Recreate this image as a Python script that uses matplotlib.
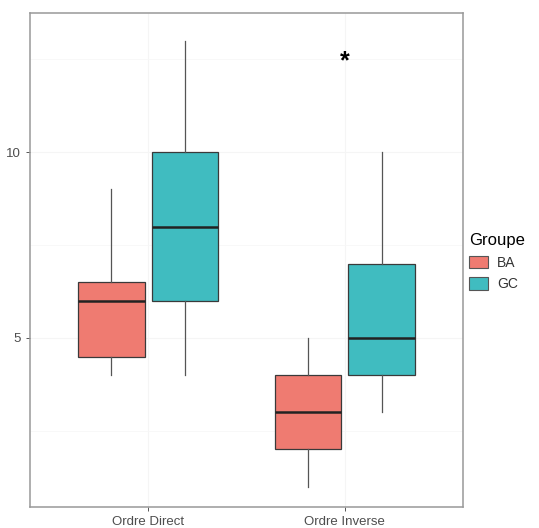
import matplotlib
matplotlib.use("Agg")
import matplotlib.pyplot as plt
from matplotlib.patches import Patch

plt.rcParams['font.family'] = ['Liberation Sans', 'DejaVu Sans']

categories = ["Ordre Direct", "Ordre Inverse"]
groups = ["BA", "GC"]
colors = {"BA": "#EF7B71", "GC": "#40BCC0"}

# five-number summaries [low whisker, Q1, median, Q3, high whisker] per category
stats_BA = [[4, 4.5, 6, 6.5, 9], [1, 2, 3, 4, 5]]
stats_GC = [[4, 6, 8, 10, 13], [3, 4, 5, 7, 10]]
all_stats = {"BA": stats_BA, "GC": stats_GC}

sig_label = "*"
sig_category = "Ordre Inverse"
sig_y = 12.45

fig = plt.figure(figsize=(5.39, 5.28), dpi=100)
W, H = 539, 528
ax = fig.add_axes([30 / W, 1 - 507 / H, (463 - 30) / W, (507 - 13) / H])

offsets = {"BA": -0.1875, "GC": 0.1875}
box_w = 0.34

for g in groups:
    bstats = []
    pos = []
    for i, s in enumerate(all_stats[g]):
        bstats.append(dict(whislo=s[0], q1=s[1], med=s[2], q3=s[3], whishi=s[4], fliers=[]))
        pos.append(i + 1 + offsets[g])
    ax.bxp(bstats, positions=pos, widths=box_w, patch_artist=True, showcaps=False,
           boxprops=dict(facecolor=colors[g], edgecolor="#3a3a3a", linewidth=0.9),
           whiskerprops=dict(color="#555555", linewidth=0.9),
           medianprops=dict(color="#222222", linewidth=1.8),
           zorder=3)

ax.set_xlim(0.4, 2.6)
ax.set_ylim(0.45, 13.75)
ax.set_xticks([1, 2])
ax.set_xticklabels(categories)
ax.set_yticks([5, 10])
ax.set_yticklabels(["5", "10"])
ax.set_yticks([2.5, 7.5, 12.5], minor=True)
ax.grid(True, which="major", color="#f5f5f5", linewidth=0.8, zorder=0)
ax.grid(True, which="minor", axis="y", color="#f7f7f7", linewidth=0.6, zorder=0)
ax.tick_params(axis="both", which="major", colors="#555555", labelcolor="#4d4d4d",
               labelsize=9.5, length=3, width=0.7)
ax.tick_params(axis="both", which="minor", length=0)
for sp in ax.spines.values():
    sp.set_color("#999999")
    sp.set_linewidth(1.1)

ax.text(categories.index(sig_category) + 1, sig_y, sig_label, ha="center", va="center",
        fontsize=18, fontweight="bold", color="black")

handles = [Patch(facecolor=colors[g], edgecolor="#555555", linewidth=0.8) for g in groups]
leg = fig.legend(handles, groups, title="Groupe", loc="upper left",
                 bbox_to_anchor=(469 / W, 1 - 233 / H), frameon=False,
                 fontsize=10, title_fontsize=12, handlelength=1.4, handleheight=1.0,
                 handletextpad=0.6, labelspacing=0.55, borderaxespad=0, borderpad=0)
leg._legend_box.align = "left"
for t in leg.get_texts():
    t.set_color("#333333")

fig.savefig("out.png", dpi=100)
